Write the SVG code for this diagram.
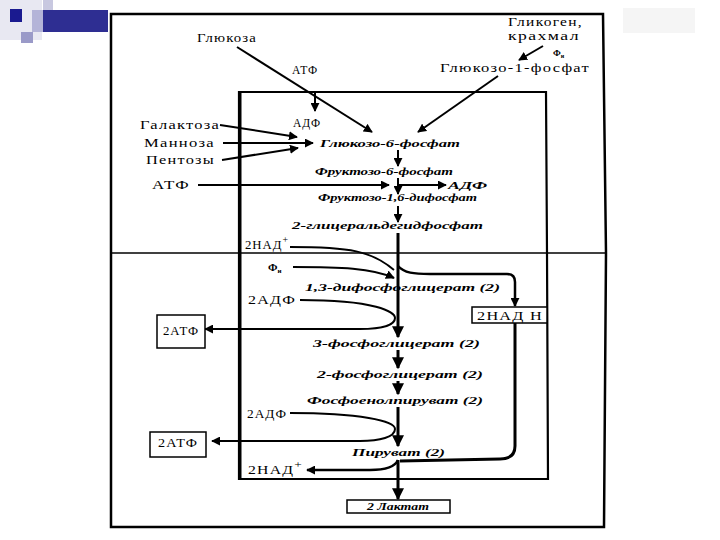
<svg xmlns="http://www.w3.org/2000/svg" width="720" height="540" viewBox="0 0 720 540">
<defs>
<marker id="ah" viewBox="0 0 10 10" refX="9" refY="5" markerWidth="9" markerHeight="9" markerUnits="userSpaceOnUse" orient="auto">
<path d="M0,0 L10,5 L0,10 Z" fill="#000"/>
</marker>
<marker id="ahb" viewBox="0 0 10 10" refX="9" refY="5" markerWidth="12" markerHeight="12" markerUnits="userSpaceOnUse" orient="auto">
<path d="M0,0 L10,5 L0,10 Z" fill="#000"/>
</marker>
<style>
.lbl{font-family:"Liberation Serif","Times New Roman",serif;font-size:13px;fill:#000;letter-spacing:1px}
.chn{font-family:"Liberation Serif","Times New Roman",serif;font-size:11px;font-style:italic;font-weight:bold;fill:#000}
.ln{fill:none;stroke:#000;stroke-width:1.8}
.ar{fill:none;stroke:#000;stroke-width:2;marker-end:url(#ah)}
.mn{fill:none;stroke:#000;stroke-width:3;marker-end:url(#ahb)}
.box{fill:#fff;stroke:#000;stroke-width:1.5}
.frame{fill:none;stroke:#000;stroke-width:2.5}
</style>
</defs>
<rect width="720" height="540" fill="#fff"/>
<g id="decor">
<rect x="0" y="0" width="42" height="40" fill="#e8e8f2"/>
<rect x="43" y="0" width="10" height="20" fill="#c8c8e0"/>
<rect x="32" y="10" width="11" height="22" fill="#b4b4d8"/>
<rect x="10" y="9" width="12" height="13" fill="#1a1a90"/>
<rect x="21" y="32" width="12" height="11" fill="#9a9ac8"/>
<rect x="43" y="10" width="65" height="22" fill="#2e2e92"/>
<rect x="623" y="8" width="72" height="25" fill="#f5f5f5"/>
</g>
<g id="frames">
<path class="frame" d="M111,14 L603,14 L606,253 L604,527 L111,527 Z"/>
<line x1="111" y1="253" x2="606" y2="253" stroke="#000" stroke-width="1.5"/>
<path d="M239,92 L546,92 L547,253 L548,479 L239,479 Z" fill="none" stroke="#000" stroke-width="2.2"/>
<line x1="240" y1="92" x2="240" y2="479" stroke="#000" stroke-width="3"/>
</g>
<g id="connectors">
<line class="ar" x1="237" y1="47" x2="372" y2="132"/>
<line class="ar" x1="498" y1="76" x2="418" y2="132"/>
<line class="ar" x1="543" y1="46" x2="519" y2="60"/>
<line class="ar" x1="315" y1="93" x2="315" y2="111"/>
<line class="ar" x1="220" y1="125" x2="297" y2="137"/>
<line class="ar" x1="223" y1="143" x2="313" y2="143"/>
<line class="ar" x1="222" y1="160" x2="298" y2="148"/>
<line class="ar" x1="398" y1="150" x2="398" y2="166"/>
<line class="ar" x1="398" y1="178" x2="398" y2="194"/>
<line class="ar" x1="198" y1="185" x2="389" y2="185"/>
<line class="ar" x1="398" y1="185" x2="446" y2="185"/>
<line class="ar" x1="398" y1="206" x2="398" y2="222"/>
<line class="mn" x1="398" y1="233" x2="398" y2="337"/>
<path class="ln" d="M290,247 C350,247 372,251 394,270"/>
<path class="ar" d="M293,267 C340,267 372,268 394,278"/>
<path class="ar" style="stroke-width:2.5" d="M398,266 C404,273 414,274 430,274 L507,274 Q515,274 515,282 L515,306"/>
<path class="ar" d="M300,300 C376,300 395,312 395,318 C395,325 382,329 360,329 L205,329"/>
<line class="mn" x1="398" y1="350" x2="398" y2="368"/>
<line class="mn" x1="398" y1="381" x2="398" y2="394"/>
<line class="mn" x1="398" y1="407" x2="398" y2="446"/>
<path class="ar" d="M290,413 C360,413 395,421 395,429 C395,437 380,441 360,441 L212,441"/>
<path fill="none" stroke="#000" stroke-width="3" d="M515,322 L515,446 Q515,459 500,459 L400,461"/>
<path class="ar" style="stroke-width:2.5" d="M398,460 C395,467 386,470 370,470 L307,470"/>
<line class="mn" x1="398" y1="460" x2="398" y2="499"/>
</g>
<g id="n-glucose"><text class="lbl" x="197" y="42" textLength="60" lengthAdjust="spacingAndGlyphs">Глюкоза</text></g>
<g id="n-glycogen">
<text class="lbl" x="508" y="26" style="font-size:12px" textLength="75" lengthAdjust="spacingAndGlyphs">Гликоген,</text>
<text class="lbl" x="508" y="40" style="font-size:12px" textLength="72" lengthAdjust="spacingAndGlyphs">крахмал</text>
</g>
<g id="n-pi-top"><text x="553" y="56" style="font-family:'Liberation Serif',serif;font-size:9px;font-weight:bold">Ф<tspan font-size="6" dy="2">н</tspan></text></g>
<g id="n-g1p"><text class="lbl" x="440" y="72" textLength="150" lengthAdjust="spacingAndGlyphs">Глюкозо-1-фосфат</text></g>
<g id="n-atp1"><text class="lbl" x="292" y="74" textLength="26" lengthAdjust="spacingAndGlyphs">АТФ</text></g>
<g id="n-adp1"><text class="lbl" x="293" y="127" textLength="28" lengthAdjust="spacingAndGlyphs">АДФ</text></g>
<g id="n-gal"><text class="lbl" x="140" y="129" textLength="80" lengthAdjust="spacingAndGlyphs">Галактоза</text></g>
<g id="n-man"><text class="lbl" x="144" y="147" textLength="71" lengthAdjust="spacingAndGlyphs">Манноза</text></g>
<g id="n-pent"><text class="lbl" x="146" y="164" textLength="69" lengthAdjust="spacingAndGlyphs">Пентозы</text></g>
<g id="n-atp2"><text class="lbl" x="152" y="189" textLength="38" lengthAdjust="spacingAndGlyphs">АТФ</text></g>
<g id="n-g6p"><text class="chn" x="320" y="147" textLength="140" lengthAdjust="spacingAndGlyphs">Глюкозо-6-фосфат</text></g>
<g id="n-f6p"><text class="chn" x="315" y="175" textLength="138" lengthAdjust="spacingAndGlyphs">Фруктозо-6-фосфат</text></g>
<g id="n-adp2"><text class="chn" x="448" y="189" textLength="39" lengthAdjust="spacingAndGlyphs">АДФ</text></g>
<g id="n-f16"><text class="chn" x="318" y="201" textLength="159" lengthAdjust="spacingAndGlyphs">Фруктозо-1,6-дифосфат</text></g>
<g id="n-gap"><text class="chn" x="292" y="229" textLength="191" lengthAdjust="spacingAndGlyphs">2-глицеральдегидфосфат</text></g>
<g id="n-nad1"><text class="lbl" x="245" y="249" textLength="44" lengthAdjust="spacingAndGlyphs">2НАД<tspan dy="-6" font-size="10">+</tspan></text></g>
<g id="n-pi"><text x="268" y="271" style="font-family:'Liberation Serif',serif;font-size:11px;font-weight:bold">Ф<tspan font-size="7" dy="2">н</tspan></text></g>
<g id="n-13bpg"><text class="chn" x="305" y="291" textLength="195" lengthAdjust="spacingAndGlyphs">1,3-дифосфоглицерат (2)</text></g>
<g id="n-adp3"><text class="lbl" x="248" y="304" textLength="48" lengthAdjust="spacingAndGlyphs">2АДФ</text></g>
<g id="n-atp3"><rect class="box" x="157" y="315" width="48" height="33"/><text class="lbl" x="163" y="335" textLength="36" lengthAdjust="spacingAndGlyphs">2АТФ</text></g>
<g id="n-nadh"><rect class="box" x="472" y="307" width="75" height="16"/><text class="lbl" x="477" y="320" textLength="66" lengthAdjust="spacingAndGlyphs">2НАД Н</text></g>
<g id="n-3pg"><text class="chn" x="313" y="347" textLength="167" lengthAdjust="spacingAndGlyphs">3-фосфоглицерат (2)</text></g>
<g id="n-2pg"><text class="chn" x="317" y="378" textLength="166" lengthAdjust="spacingAndGlyphs">2-фосфоглицерат (2)</text></g>
<g id="n-pep"><text class="chn" x="307" y="404" textLength="176" lengthAdjust="spacingAndGlyphs">Фосфоенолпируват (2)</text></g>
<g id="n-adp4"><text class="lbl" x="247" y="418" textLength="40" lengthAdjust="spacingAndGlyphs">2АДФ</text></g>
<g id="n-atp4"><rect class="box" x="150" y="432" width="56" height="25"/><text class="lbl" x="158" y="447" textLength="40" lengthAdjust="spacingAndGlyphs">2АТФ</text></g>
<g id="n-pyr"><text class="chn" x="352" y="456" textLength="93" lengthAdjust="spacingAndGlyphs">Пируват (2)</text></g>
<g id="n-nad2"><text class="lbl" x="248" y="474" textLength="55" lengthAdjust="spacingAndGlyphs">2НАД<tspan dy="-6" font-size="11">+</tspan></text></g>
<g id="n-lact"><rect class="box" x="347" y="500" width="103" height="13"/><text class="chn" x="367" y="510" textLength="62" lengthAdjust="spacingAndGlyphs">2 Лактат</text></g>
</svg>
